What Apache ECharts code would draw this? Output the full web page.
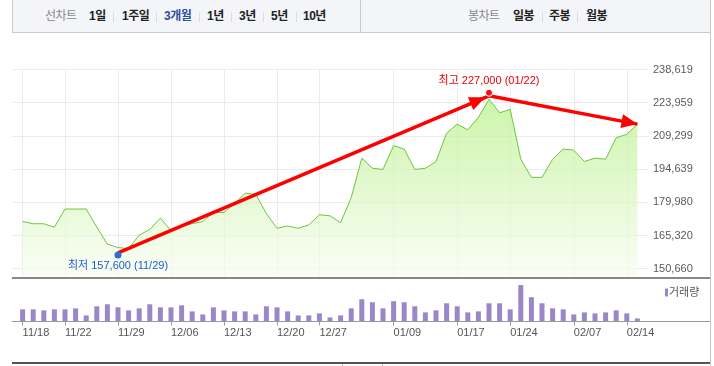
<!doctype html>
<html>
<head>
<meta charset="utf-8">
<title>3개월 선차트</title>
<style>
  html, body { margin: 0; padding: 0; background: #fff; }
  #main { position: absolute; left: 0; top: 0; width: 714px; height: 366px; }
  #toolbar {
    position: absolute; left: 12px; top: -1px; width: 699px; height: 34px;
    box-sizing: border-box; background: #f4f5f8;
    border: 1px solid #c9c9c9; z-index: 2;
    font-family: "Liberation Sans", "Noto Sans CJK KR", sans-serif;
    font-size: 12px; font-weight: bold; color: #222;
  }
  #toolbar .t { position: absolute; top: 0; line-height: 32px; white-space: nowrap; letter-spacing: -0.5px; }
  #toolbar .gray { color: #888; font-weight: normal; }
  #toolbar .on { color: #2d4fa6; }
  #toolbar .sep { position: absolute; top: 12px; width: 1px; height: 10px; background: #dcdcdc; }
  #toolbar .div { position: absolute; top: 0; width: 1px; height: 32px; background: #c9c9c9; }
  #rightline { position: absolute; left: 710px; top: 0; width: 1px; height: 366px; background: #c9c9c9; z-index: 3; }
  #bottomline { position: absolute; left: 12px; top: 362px; width: 699px; height: 2px; background: #555; }
  #tab { position: absolute; left: 342px; top: 364px; width: 39px; height: 3px; border-left: 1px solid #bbb; border-right: 1px solid #bbb; }
</style>
</head>
<body>
<div id="main"></div>
<div id="toolbar">
  <span class="t gray" style="left:32px">선차트</span>
  <span class="t" style="left:76px">1일</span>
  <span class="sep" style="left:100px"></span>
  <span class="t" style="left:109px">1주일</span>
  <span class="sep" style="left:143px"></span>
  <span class="t on" style="left:151px">3개월</span>
  <span class="sep" style="left:186px"></span>
  <span class="t" style="left:194px">1년</span>
  <span class="sep" style="left:218px"></span>
  <span class="t" style="left:226px">3년</span>
  <span class="sep" style="left:250px"></span>
  <span class="t" style="left:258px">5년</span>
  <span class="sep" style="left:283px"></span>
  <span class="t" style="left:290px">10년</span>
  <span class="div" style="left:347px"></span>
  <span class="t gray" style="left:455px">봉차트</span>
  <span class="t" style="left:500px">일봉</span>
  <span class="sep" style="left:529px"></span>
  <span class="t" style="left:536px">주봉</span>
  <span class="sep" style="left:564px"></span>
  <span class="t" style="left:573px">월봉</span>
</div>
<div id="rightline"></div>
<div id="bottomline"></div>
<div id="tab"></div>
<script src="https://cdn.jsdelivr.net/npm/echarts@6/dist/echarts.min.js"></script>
<script>
var dates = ['11/18','11/19','11/20','11/21','11/22','11/25','11/26','11/27','11/28','11/29',
             '12/02','12/03','12/04','12/05','12/06','12/09','12/10','12/11','12/12','12/13',
             '12/16','12/17','12/18','12/19','12/20','12/23','12/24','12/26','12/27','12/30',
             '01/02','01/03','01/06','01/07','01/08','01/09','01/10','01/13','01/14','01/15',
             '01/16','01/17','01/20','01/21','01/22','01/23','01/24','01/31','02/03','02/04',
             '02/05','02/06','02/07','02/10','02/11','02/12','02/13','02/14','02/17'];

// closing price
var closes = [171500,170500,170500,169000,177000,177000,177000,169000,161500,160000,
              159500,165500,168000,173000,167500,169500,170500,171500,175500,175500,
              179500,184000,183500,175000,168500,169500,168500,170000,174500,174000,
              171000,182000,199500,195000,194500,205000,203500,194500,195000,198000,
              210500,214500,212000,217500,225500,219500,221000,199000,191000,191000,
              199000,203500,203000,198000,199500,199000,208500,210000,214500];

// trading volume (relative units)
var volumes = [12,12,11,12,12,13,6,15,17,14,
               11,13,17,14,14,16,10,7,14,11,
               10,10,7,15,14,10,6,6,8,4,
               6,13,22,19,13,20,19,15,9,11,
               18,15,9,10,18,18,12,36,24,18,
               13,12,7,9,8,9,11,8,3];

var yTicks = [150660,165320,179980,194639,209299,223959,238619];
var labelDates = ['11/18','11/22','11/29','12/06','12/13','12/20','12/27','01/09','01/17','01/24','02/07','02/14'];

var low = { date: '11/29', value: 157600 };
var high = { date: '01/22', value: 227000 };

var cats = ['<'].concat(dates, ['>']);
function onLabel(i, v) { return labelDates.indexOf(v) >= 0; }
function fmt(v) { return v.toLocaleString('en-US'); }

var font = '"Liberation Sans", "Noto Sans CJK KR", sans-serif';
var chart = echarts.init(document.getElementById('main'));

chart.setOption({
    animation: false,
    textStyle: { fontFamily: font },
    grid: [
        { left: 12, top: 69.5, width: 636, height: 208.5 },
        { left: 12, top: 281, width: 636, height: 40.5 }
    ],
    legend: {
        data: ['거래량'],
        left: 665, top: 287, padding: 0,
        icon: 'rect', itemWidth: 3, itemHeight: 8,
        selectedMode: false,
        textStyle: { fontSize: 11, color: '#555', padding: [0, 0, 0, -4] }
    },
    xAxis: [{
        type: 'category', gridIndex: 0, data: cats, boundaryGap: false,
        axisLine: { show: false }, axisTick: { show: false }, axisLabel: { show: false },
        splitLine: { show: true, interval: onLabel, lineStyle: { color: '#ebebeb' } }
    }, {
        type: 'category', gridIndex: 1, data: cats, boundaryGap: false,
        axisLine: { show: false },
        axisTick: { show: true, interval: onLabel, length: 4, lineStyle: { color: '#999' } },
        axisLabel: { interval: onLabel, align: 'left', margin: 6, fontSize: 11, color: '#555' },
        splitLine: { show: false }
    }],
    yAxis: [{
        type: 'value', gridIndex: 0, position: 'right',
        min: 146550, max: 238619,
        axisLine: { show: false },
        axisTick: { show: false, customValues: yTicks },
        axisLabel: { customValues: yTicks, margin: 5, fontSize: 11, color: '#5a5a5a', formatter: fmt },
        splitLine: { show: true, lineStyle: { color: '#ebebeb' } }
    }, {
        type: 'value', gridIndex: 1, min: 0, max: 40, show: false
    }],
    graphic: [
        { type: 'line', shape: { x1: 12, y1: 278, x2: 710, y2: 278 }, style: { stroke: '#888', lineWidth: 2 }, z: 10 },
        { type: 'line', shape: { x1: 12, y1: 321.5, x2: 710, y2: 321.5 }, style: { stroke: '#999', lineWidth: 1 }, z: 10 }
    ],
    series: [{
        name: '종가',
        type: 'line',
        xAxisIndex: 0, yAxisIndex: 0,
        data: dates.map(function (d, i) { return [d, closes[i]]; }),
        symbol: 'none',
        lineStyle: { color: '#6fc43f', width: 1 },
        areaStyle: {
            color: new echarts.graphic.LinearGradient(0, 0, 0, 1, [
                { offset: 0, color: '#b6ef86' },
                { offset: 1, color: '#f8fdf3' }
            ])
        },
        markLine: {
            silent: true,
            z: 5,
            symbol: ['none', 'triangle'],
            symbolSize: [14, 16],
            label: { show: false },
            lineStyle: { color: '#ff0000', width: 3.5, type: 'solid' },
            data: [
                [{ coord: [low.date, low.value] },
                 { coord: [high.date, high.value], symbolOffset: [0, 12] }],
                [{ coord: [high.date, high.value] },
                 { coord: [dates[dates.length - 1], closes[closes.length - 1]], symbolOffset: [0, 8] }]
            ]
        },
        markPoint: {
            silent: true,
            z: 8,
            symbol: 'circle',
            symbolSize: 7,
            data: [{
                coord: [low.date, low.value],
                symbolOffset: [0, 2],
                itemStyle: { color: '#2a6fd6' },
                label: {
                    show: true, position: 'bottom', distance: 2,
                    fontSize: 11, color: '#2160c4',
                    formatter: '최저 ' + fmt(low.value) + ' (' + low.date + ')'
                }
            }, {
                coord: [high.date, high.value],
                symbolOffset: [0, -3],
                itemStyle: { color: '#ee1111', borderColor: '#fff', borderWidth: 1 },
                label: {
                    show: true, position: 'top', distance: 2,
                    fontSize: 11, color: '#e8000b',
                    formatter: '최고 ' + fmt(high.value) + ' (' + high.date + ')'
                }
            }]
        }
    }, {
        name: '거래량',
        type: 'bar',
        xAxisIndex: 1, yAxisIndex: 1,
        data: dates.map(function (d, i) { return [d, volumes[i]]; }),
        barWidth: 5,
        itemStyle: { color: '#9b87c8' }
    }]
});

window.addEventListener('resize', function () {
    chart.resize();
});
</script>
</body>
</html>
